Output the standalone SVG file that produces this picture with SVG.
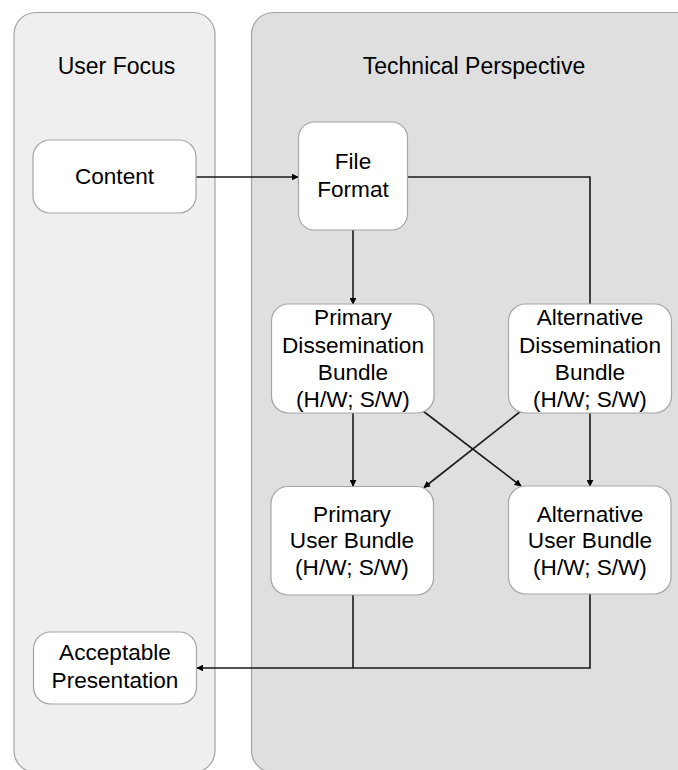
<svg xmlns="http://www.w3.org/2000/svg" width="678" height="770" viewBox="0 0 678 770">
<style>
  .panel { stroke: #a3a3a3; stroke-width: 1.2; }
  .node rect { fill: #ffffff; stroke: #a6a6a6; stroke-width: 1.2; }
  text { font-family: "Liberation Sans", Arial, sans-serif; font-size: 22.6px; fill: #000; text-anchor: middle; }
  .title { font-size: 23px; }
  .conn { fill: none; stroke: #1a1a1a; stroke-width: 1.6; }
</style>
<defs>
  <marker id="arr" viewBox="0 0 10 10" refX="9" refY="5" markerWidth="7" markerHeight="7" markerUnits="userSpaceOnUse" orient="auto">
    <path d="M0,0 L10,5 L0,10 z" fill="#000"/>
  </marker>
</defs>
<rect width="678" height="770" fill="#ffffff"/>
<g id="panel-user">
  <rect class="panel" x="14" y="12.5" width="201" height="760" rx="22" fill="#efefef"/>
  <text class="title" x="116.5" y="74">User Focus</text>
</g>
<g id="panel-tech">
  <rect class="panel" x="251.5" y="12.5" width="460" height="760" rx="22" fill="#dfdfdf"/>
  <text class="title" x="474" y="74">Technical Perspective</text>
</g>
<g id="connectors">
  <path class="conn" d="M196,177 L298,177" marker-end="url(#arr)"/>
  <path class="conn" d="M408,177 L590,177 L590,304"/>
  <path class="conn" d="M353,230 L353,304" marker-end="url(#arr)"/>
  <path class="conn" d="M353,413 L353,486" marker-end="url(#arr)"/>
  <path class="conn" d="M590,413 L590,486" marker-end="url(#arr)"/>
  <path class="conn" d="M423,411 L521,486" marker-end="url(#arr)"/>
  <path class="conn" d="M521,411 L424,487.5" marker-end="url(#arr)"/>
  <path class="conn" d="M353,595 L353,668"/>
  <path class="conn" d="M590,594 L590,668 L197,668" marker-end="url(#arr)"/>
</g>
<g id="node-content" class="node">
  <rect x="33" y="140" width="163" height="73" rx="17"/>
  <text x="114.5" y="184">Content</text>
</g>
<g id="node-file-format" class="node">
  <rect x="298.5" y="122" width="109" height="108" rx="16"/>
  <text x="353" y="169">File</text>
  <text x="353" y="197">Format</text>
</g>
<g id="node-primary-dissemination" class="node">
  <rect x="271.5" y="304" width="162.5" height="109" rx="17"/>
  <text x="353" y="325">Primary</text>
  <text x="353" y="352.5">Dissemination</text>
  <text x="353" y="380">Bundle</text>
  <text x="353" y="407">(H/W; S/W)</text>
</g>
<g id="node-alternative-dissemination" class="node">
  <rect x="508.5" y="304" width="163" height="109" rx="17"/>
  <text x="590" y="325">Alternative</text>
  <text x="590" y="352.5">Dissemination</text>
  <text x="590" y="380">Bundle</text>
  <text x="590" y="407">(H/W; S/W)</text>
</g>
<g id="node-primary-user" class="node">
  <rect x="271" y="486.5" width="162.5" height="108.5" rx="17"/>
  <text x="352" y="521.5">Primary</text>
  <text x="352" y="548">User Bundle</text>
  <text x="352" y="575">(H/W; S/W)</text>
</g>
<g id="node-alternative-user" class="node">
  <rect x="508.5" y="486" width="162.5" height="108" rx="17"/>
  <text x="590" y="521.5">Alternative</text>
  <text x="590" y="548">User Bundle</text>
  <text x="590" y="575">(H/W; S/W)</text>
</g>
<g id="node-acceptable-presentation" class="node">
  <rect x="33.5" y="632" width="163" height="72" rx="17"/>
  <text x="115" y="660">Acceptable</text>
  <text x="115" y="688">Presentation</text>
</g>
</svg>
